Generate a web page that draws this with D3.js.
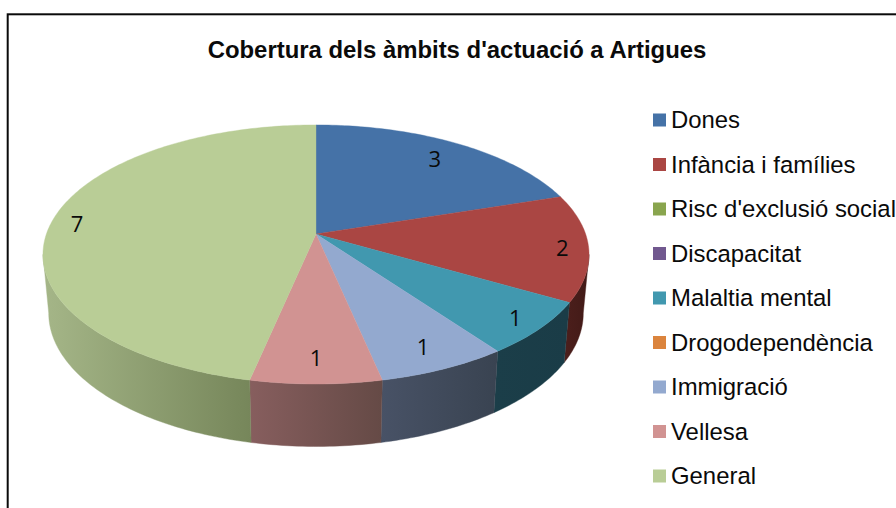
<!DOCTYPE html>
<html><head><meta charset="utf-8">
<style>html,body{margin:0;padding:0;background:#fff;overflow:hidden}svg{display:block}</style>
<script src="https://cdn.jsdelivr.net/npm/d3@7"></script></head>
<body><svg id="c" width="896" height="508"></svg>
<script>
const titleText = "Cobertura dels àmbits d'actuació a Artigues";
const categories = ["Dones","Infància i famílies","Risc d'exclusió social","Discapacitat","Malaltia mental","Drogodependència","Immigració","Vellesa","General"];
const values = [3,2,0,0,1,0,1,1,7];
const colors = ["#4572A7","#AA4643","#89A54E","#71588F","#4198AF","#DB843D","#93A9CF","#D19392","#B9CD96"];
const sideLeft  = ["#2a4565","#4c1f1c","#3d4a22","#332740","#1b3e49","#63391a","#485266","#875e5e","#a5b688"];
const sideRight = ["#2a4565","#421a17","#3d4a22","#332740","#1a3c47","#63391a","#394351","#654a46","#76865a"];
const labelFractions = [0.83,0.905,0,0,0.9,0,0.855,0.85,0.905];
const labelNudge = [2,2,0,0,0,0,1,0,2];

const svg = d3.select("#c");
const defs = svg.append("defs");
svg.append("rect").attr("x",7.7).attr("y",14.3).attr("width",1200).attr("height",1200)
   .attr("fill","#fff").attr("stroke","#0a0a0a").attr("stroke-width",2);

// perspective projection of the pie disc
const cx=316, cy=234, R=269.6, r=126.3, k=0.158;
const topPt = a => { const u=Math.sin(a), v=-Math.cos(a), w=1-k*v;
  return [cx+R*u/w, cy+r*v/w]; };
const botPt = a => { const p=topPt(a);
  return [cx+(p[0]-cx)*0.979, cy+(p[1]-cy)*1.03+58]; };
const fracPt = (a,t) => { const u=t*Math.sin(a), v=-t*Math.cos(a), w=1-k*v;
  return [cx+R*u/w, cy+r*v/w]; };

const arcs = d3.pie().sort(null).value(d=>d)(values);
const line = d3.line();
const step = Math.PI/180;
const samples = (a0,a1) => { const n=Math.max(2,Math.ceil((a1-a0)/step)+1);
  return d3.range(n).map(i=>a0+(a1-a0)*i/(n-1)); };

// visible part of the rim
const visA = Math.acos(-k), visB = 2*Math.PI-visA;

const gSide = svg.append("g");
arcs.forEach((d,i)=>{
  const a0=Math.max(d.startAngle,visA), a1=Math.min(d.endAngle,visB);
  if(a1<=a0) return;
  const s=samples(a0,a1);
  const pts=s.map(topPt).concat(s.slice().reverse().map(botPt));
  const xs=pts.map(p=>p[0]);
  const id="g"+i;
  const g=defs.append("linearGradient").attr("id",id).attr("gradientUnits","userSpaceOnUse")
     .attr("x1",d3.min(xs)).attr("x2",d3.max(xs)).attr("y1",0).attr("y2",0);
  g.append("stop").attr("offset",0).attr("stop-color",sideLeft[i]);
  g.append("stop").attr("offset",1).attr("stop-color",sideRight[i]);
  gSide.append("path").attr("d",line(pts)+"Z").attr("fill",`url(#${id})`)
     .attr("stroke",`url(#${id})`).attr("stroke-width",0.4);
});

const gTop = svg.append("g");
arcs.forEach((d,i)=>{
  if(d.endAngle<=d.startAngle) return;
  const pts=[[cx,cy]].concat(samples(d.startAngle,d.endAngle).map(topPt));
  gTop.append("path").attr("d",line(pts)+"Z").attr("fill",colors[i]).attr("stroke",colors[i]).attr("stroke-width",0.4);
});

const gLab = svg.append("g").attr("font-family","'Open Sans',sans-serif").attr("font-size",22).attr("fill","#0a0a0a").attr("text-anchor","middle");
arcs.forEach((d,i)=>{
  if(d.value<=0) return;
  const p=fracPt((d.startAngle+d.endAngle)/2,labelFractions[i]);
  gLab.append("text").attr("x",p[0]).attr("y",p[1]+labelNudge[i]).attr("dy","0.36em").text(d.value);
});

svg.append("text").attr("x",457).attr("y",58).attr("text-anchor","middle")
  .attr("font-family","'Liberation Sans',Arial,sans-serif").attr("font-weight","bold").attr("font-size",23.9)
  .attr("fill","#0a0a0a").text(titleText);

const ly = d3.scalePoint().domain(categories).range([120,476]);
const gLeg = svg.append("g").attr("font-family","'Liberation Sans',Arial,sans-serif").attr("font-size",23.9).attr("fill","#0a0a0a");
categories.forEach((c,i)=>{
  gLeg.append("rect").attr("x",653).attr("y",ly(c)-6.5).attr("width",13).attr("height",13).attr("fill",colors[i]);
  gLeg.append("text").attr("x",671).attr("y",ly(c)+8).text(c);
});
</script></body></html>
